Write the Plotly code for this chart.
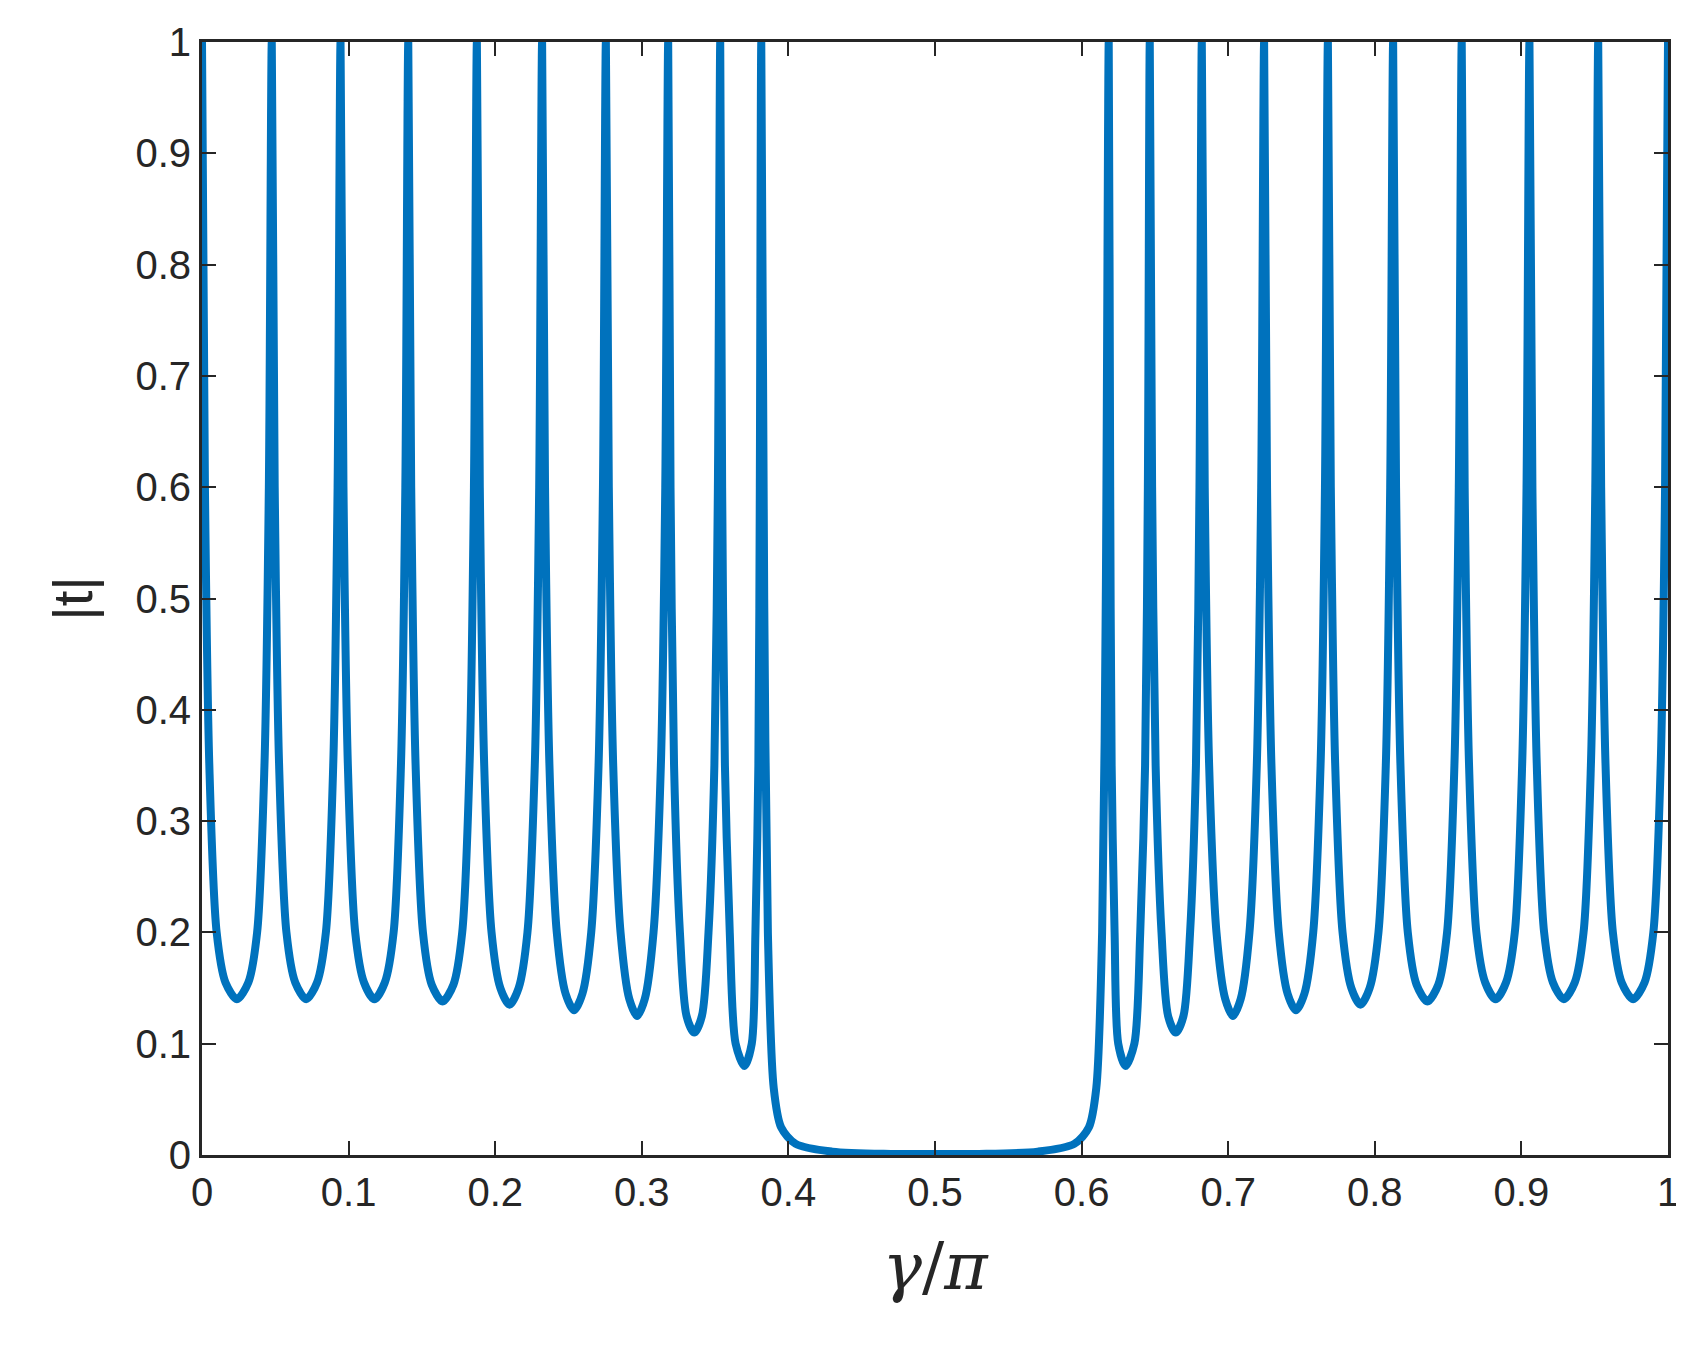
import plotly.graph_objects as go

# gamma/pi sample points
x_left = [0,
          0.002, 0.005, 0.010, 0.016, 0.0238, 0.0316, 0.0376, 0.0426, 0.0456, 0.0476,
          0.0496, 0.0526, 0.0576, 0.0636, 0.0711, 0.0785, 0.0845, 0.0895, 0.0925, 0.0945,
          0.0965, 0.0995, 0.1045, 0.1105, 0.1176, 0.1247, 0.1307, 0.1357, 0.1387, 0.1407,
          0.1427, 0.1457, 0.1507, 0.1567, 0.1641, 0.1715, 0.1775, 0.1825, 0.1855, 0.1875,
          0.1895, 0.1925, 0.1975, 0.2035, 0.2098, 0.216, 0.222, 0.227, 0.230, 0.232,
          0.234, 0.237, 0.242, 0.248, 0.2538, 0.2595, 0.2655, 0.2705, 0.2735, 0.2755,
          0.2775, 0.2805, 0.2855, 0.2915, 0.2968, 0.302, 0.308, 0.313, 0.316, 0.318,
          0.3196, 0.322, 0.326, 0.3305, 0.3358, 0.341, 0.3455, 0.3495, 0.3519, 0.3535,
          0.3548, 0.3567, 0.36, 0.364, 0.370, 0.375, 0.3775, 0.3795, 0.3805, 0.3815]
y_left = [1,
          0.6, 0.35, 0.2, 0.155, 0.14, 0.155, 0.2, 0.35, 0.6, 1,
          0.6, 0.35, 0.2, 0.155, 0.14, 0.155, 0.2, 0.35, 0.6, 1,
          0.6, 0.35, 0.2, 0.155, 0.14, 0.155, 0.2, 0.35, 0.6, 1,
          0.6, 0.35, 0.2, 0.153, 0.138, 0.153, 0.2, 0.35, 0.6, 1,
          0.6, 0.35, 0.2, 0.15, 0.135, 0.15, 0.2, 0.35, 0.6, 1,
          0.6, 0.35, 0.2, 0.145, 0.13, 0.145, 0.2, 0.35, 0.6, 1,
          0.6, 0.35, 0.2, 0.14, 0.125, 0.14, 0.2, 0.35, 0.6, 1,
          0.6, 0.35, 0.2, 0.125, 0.11, 0.125, 0.2, 0.35, 0.6, 1,
          0.6, 0.35, 0.2, 0.1, 0.08, 0.1, 0.2, 0.35, 0.6, 1]
x_gap = [0.3835, 0.386, 0.39, 0.395, 0.405, 0.43, 0.47, 0.5, 0.53, 0.57,
         0.595, 0.605, 0.61, 0.614, 0.6165, 0.6185]
y_gap = [0.5, 0.2, 0.06, 0.025, 0.01, 0.003, 0.001, 0.001, 0.001, 0.003,
         0.01, 0.025, 0.06, 0.2, 0.5, 1]
x_right = [0.6195, 0.6205, 0.6225, 0.625, 0.630, 0.636, 0.640, 0.6433, 0.6452, 0.6465,
           0.6481, 0.6505, 0.6545, 0.659, 0.6642, 0.6695, 0.674, 0.678, 0.6804, 0.682,
           0.684, 0.687, 0.692, 0.698, 0.7032, 0.7085, 0.7145, 0.7195, 0.7225, 0.7245,
           0.7265, 0.7295, 0.7345, 0.7405, 0.7462, 0.752, 0.758, 0.763, 0.766, 0.768,
           0.770, 0.773, 0.778, 0.784, 0.7902, 0.7965, 0.8025, 0.8075, 0.8105, 0.8125,
           0.8145, 0.8175, 0.8225, 0.8285, 0.8359, 0.8433, 0.8493, 0.8543, 0.8573, 0.8593,
           0.8613, 0.8643, 0.8693, 0.8753, 0.8824, 0.8895, 0.8955, 0.9005, 0.9035, 0.9055,
           0.9075, 0.9105, 0.9155, 0.9215, 0.9289, 0.9364, 0.9424, 0.9474, 0.9504, 0.9524,
           0.9544, 0.9574, 0.9624, 0.9684, 0.9762, 0.984, 0.990, 0.995, 0.998, 1]
y_right = [0.6, 0.35, 0.2, 0.1, 0.08, 0.1, 0.2, 0.35, 0.6, 1,
           0.6, 0.35, 0.2, 0.125, 0.11, 0.125, 0.2, 0.35, 0.6, 1,
           0.6, 0.35, 0.2, 0.14, 0.125, 0.14, 0.2, 0.35, 0.6, 1,
           0.6, 0.35, 0.2, 0.145, 0.13, 0.145, 0.2, 0.35, 0.6, 1,
           0.6, 0.35, 0.2, 0.15, 0.135, 0.15, 0.2, 0.35, 0.6, 1,
           0.6, 0.35, 0.2, 0.153, 0.138, 0.153, 0.2, 0.35, 0.6, 1,
           0.6, 0.35, 0.2, 0.155, 0.14, 0.155, 0.2, 0.35, 0.6, 1,
           0.6, 0.35, 0.2, 0.155, 0.14, 0.155, 0.2, 0.35, 0.6, 1,
           0.6, 0.35, 0.2, 0.155, 0.14, 0.155, 0.2, 0.35, 0.6, 1]

x = x_left + x_gap + x_right
y = y_left + y_gap + y_right

fig = go.Figure(go.Scatter(x=x, y=y, mode="lines",
                           line=dict(color="#0072BD", width=8, shape="spline", smoothing=0.8)))

ax = dict(showgrid=False, zeroline=False, showline=True, mirror="ticks", linecolor="#262626",
          linewidth=3, ticks="inside", ticklen=14, tickwidth=2, tickcolor="#262626",
          tickfont=dict(family="Liberation Sans, Arial", size=40, color="#262626"))
labels = ["0", "0.1", "0.2", "0.3", "0.4", "0.5", "0.6", "0.7", "0.8", "0.9", "1"]
fig.update_xaxes(range=[0, 1], tickvals=[i/10 for i in range(11)], ticktext=labels,
                 title=dict(text="<i>γ</i>/<i>π</i>", font=dict(family="DejaVu Serif", size=66, color="#262626"), standoff=30),
                 **ax)
fig.update_yaxes(range=[0, 1], tickvals=[i/10 for i in range(11)], ticktext=labels,
                 title=dict(text="|t|", font=dict(family="Liberation Sans, Arial", size=56, color="#262626"), standoff=25),
                 **ax)
fig.update_layout(width=1684, height=1353, margin=dict(l=194, r=24, t=29, b=206),
                  plot_bgcolor="white", paper_bgcolor="white", showlegend=False)
fig.write_html("out.html")
